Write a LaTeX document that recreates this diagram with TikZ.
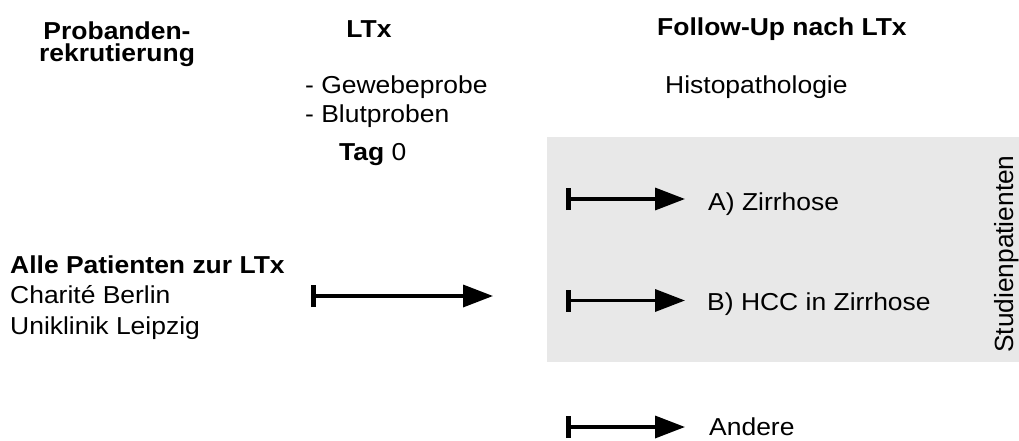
\documentclass[tikz,border=0pt]{standalone}
\usepackage{fontspec}
\setmainfont{Liberation Sans}[FakeStretch=1.08]
\newfontfamily\rotfont{Liberation Sans}
\usetikzlibrary{arrows.meta}
\definecolor{boxgray}{RGB}{232,232,232}
\tikzset{
  txt/.style={inner sep=0pt, font=\fontsize{24.5}{30.5}\selectfont},
  conn/.style={line width=3.5pt, {Bar[width=22pt,line width=4.5pt]}-{Triangle[length=30pt,width=22pt]}},
}
\begin{document}
\begin{tikzpicture}[x=1pt,y=-1pt]
\useasboundingbox (0,0) rectangle (1019,441);
% gray area
\fill[boxgray] (547,137) rectangle (1019,362);
% headers
\node[txt, anchor=base, align=center, font=\fontsize{24.5}{22.5}\selectfont\bfseries] (hdr1) at (117,62) {Probanden-\\rekrutierung};
\node[txt, anchor=base, font=\fontsize{24.5}{30}\selectfont\bfseries] (hdr2) at (369,38) {LTx};
\node[txt, anchor=base west, font=\fontsize{24.5}{30}\selectfont\bfseries] (hdr3) at (657,36) {Follow-Up nach LTx};
% LTx contents
\node[txt, anchor=base west, align=left, font=\fontsize{24.5}{29.4}\selectfont] (probe) at (305,122.7) {- Gewebeprobe\\- Blutproben};
\node[txt, anchor=base west] (tag) at (339,160) {\textbf{Tag} 0};
\node[txt, anchor=base west] (histo) at (665,93.3) {Histopathologie};
% patients
\node[txt, anchor=base west, align=left] (pat) at (10,334) {\textbf{Alle Patienten zur LTx}\\Charité Berlin\\Uniklinik Leipzig};
% outcomes
\node[txt, anchor=base west] (oa) at (708,210) {A) Zirrhose};
\node[txt, anchor=base west] (ob) at (707,310) {B) HCC in Zirrhose};
\node[txt, anchor=base west] (oc) at (709,435.5) {Andere};
% rotated label
\node[inner sep=0pt, rotate=90, anchor=base west, font=\rotfont\fontsize{26.3}{30}\selectfont] (stud) at (1013,353) {Studienpatienten};
% arrows
\coordinate (m0) at (311,296);
\coordinate (m1) at (493,296);
\coordinate (a0) at (566,199);
\coordinate (a1) at (685,199);
\coordinate (b0) at (566,300.5);
\coordinate (b1) at (685,300.5);
\coordinate (c0) at (566,427);
\coordinate (c1) at (685,427);
\draw[conn] (m0) -- (m1);
\draw[conn] (a0) -- (a1);
\draw[conn] (b0) -- (b1);
\draw[conn] (c0) -- (c1);
\end{tikzpicture}
\end{document}
